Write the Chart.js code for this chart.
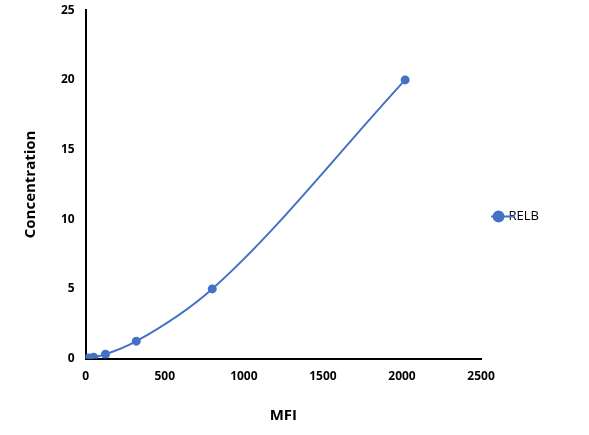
<!DOCTYPE html><html><head><style>body{margin:0;background:#fff}#w{width:589px;height:435px}</style>
<script src="https://cdn.jsdelivr.net/npm/chart.js"></script></head><body><div id="w"><canvas id="c"></canvas></div><script>
const mfi=[12,22,50,125,320,800,2020];
const conc=[0.02,0.05,0.1,0.31,1.25,5,20];
const seriesName='RELB';
const font={family:'"Open Sans", "DejaVu Sans", sans-serif',size:12,weight:'bold'};
const legLine={id:'legLine',afterDraw(ch){const lg=ch.legend;if(!lg||!lg.legendHitBoxes)return;const b=lg.legendHitBoxes[0];const c=ch.ctx;const cy=b.top+b.height/2;const cx=b.left+8;c.save();c.strokeStyle='#4472C4';c.lineWidth=2;c.beginPath();c.moveTo(cx-12,cy);c.lineTo(cx+12,cy);c.stroke();c.restore();}};
new Chart(document.getElementById('c'),{type:'scatter',data:{datasets:[{label:seriesName,data:mfi.map((x,i)=>({x,y:conc[i]})),showLine:true,cubicInterpolationMode:'monotone',borderColor:'#4472C4',backgroundColor:'#4472C4',borderWidth:2,pointRadius:3.5}]},
options:{responsive:true,maintainAspectRatio:false,animation:false,layout:{padding:{top:4,right:40,left:18,bottom:6}},
plugins:{legend:{position:'right',labels:{color:'#000',font:{family:font.family,size:13},usePointStyle:true,pointStyle:'circle',boxWidth:7,boxHeight:7,padding:14}},tooltip:{enabled:false}},
scales:{x:{type:'linear',min:0,max:2500,ticks:{stepSize:500,color:'#000',font,callback:v=>String(v)},grid:{display:false},border:{color:'#000',width:2},title:{display:true,text:'MFI',color:'#000',font:{...font,size:15},padding:{top:20}}},
y:{min:0,max:25,ticks:{stepSize:5,color:'#000',font,callback:v=>String(v)},grid:{display:false},border:{color:'#000',width:2},title:{display:true,text:'Concentration',color:'#000',font:{...font,size:15},padding:{bottom:18}}}}},plugins:[legLine]});
</script></body></html>
